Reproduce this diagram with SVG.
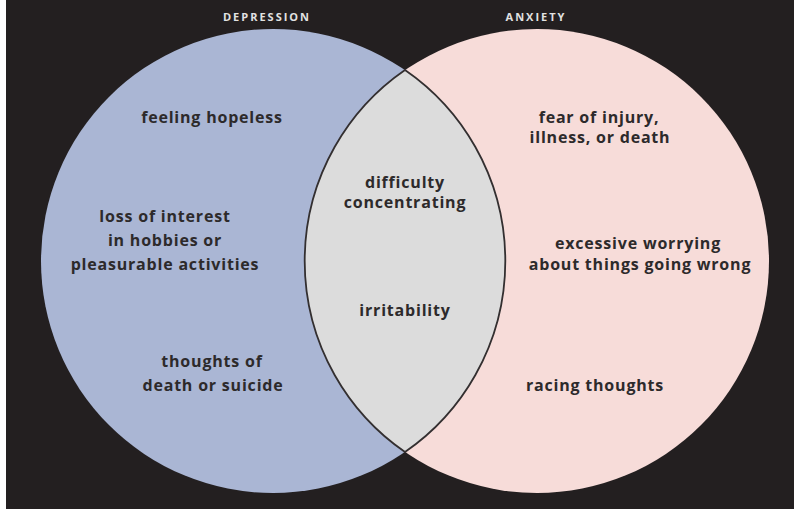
<svg xmlns="http://www.w3.org/2000/svg" width="794" height="509" viewBox="0 0 794 509">
  <style>
    .lbl { font-family: "Open Sans", "DejaVu Sans", sans-serif; font-weight: 700; font-size: 16px; letter-spacing: 0.8px; fill: #2d2a2b; text-anchor: middle; }
    .hdr { font-family: "Open Sans", "DejaVu Sans", sans-serif; font-weight: 700; font-size: 11px; letter-spacing: 2px; fill: #e2e2e2; text-anchor: middle; }
  </style>
  <rect x="0" y="0" width="794" height="509" fill="#ffffff"/>
  <rect x="6" y="0" width="788" height="509" fill="#231f20"/>
  <g id="depression">
    <circle cx="273" cy="261" r="232" fill="#aab6d4"/>
    <text class="hdr" x="267" y="21">DEPRESSION</text>
    <text class="lbl" x="212" y="123">feeling hopeless</text>
    <text class="lbl" x="165" y="222">loss of interest</text>
    <text class="lbl" x="165" y="246">in hobbies or</text>
    <text class="lbl" x="165" y="270">pleasurable activities</text>
    <text class="lbl" x="212" y="367">thoughts of</text>
    <text class="lbl" x="213" y="391">death or suicide</text>
  </g>
  <g id="anxiety">
    <circle cx="537" cy="261" r="232" fill="#f7dcd9"/>
    <text class="hdr" x="536" y="21">ANXIETY</text>
    <text class="lbl" x="599" y="123">fear of injury,</text>
    <text class="lbl" x="600" y="143">illness, or death</text>
    <text class="lbl" x="638" y="249">excessive worrying</text>
    <text class="lbl" x="640" y="270">about things going wrong</text>
    <text class="lbl" x="595" y="391">racing thoughts</text>
  </g>
  <g id="overlap">
    <path d="M405,70 A232,232 0 0,1 405,452 A232,232 0 0,1 405,70 Z" fill="#dcdcdc" stroke="#332f30" stroke-width="1.8"/>
    <text class="lbl" x="405" y="188">difficulty</text>
    <text class="lbl" x="405" y="208">concentrating</text>
    <text class="lbl" x="405" y="316">irritability</text>
  </g>
</svg>
